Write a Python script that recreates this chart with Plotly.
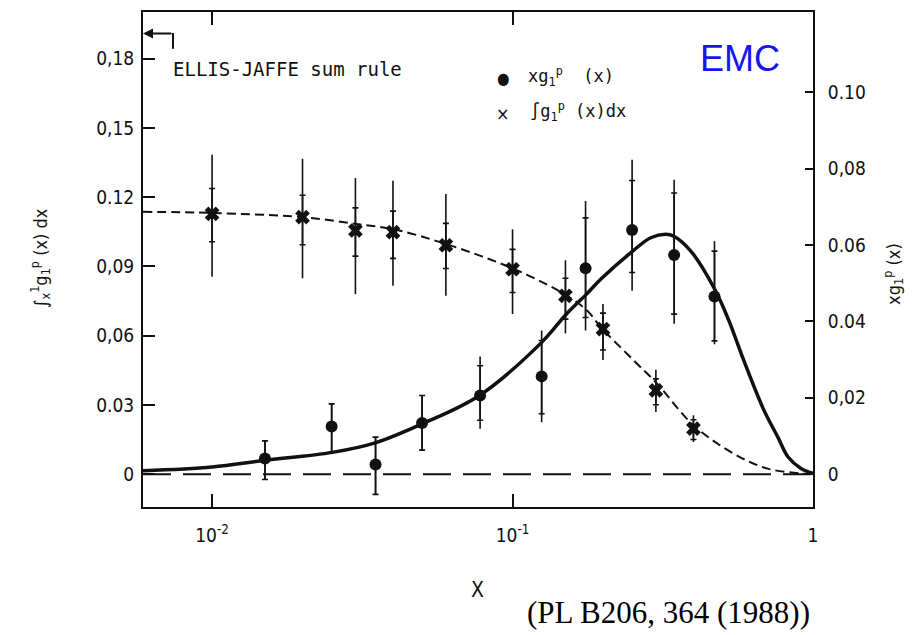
import plotly.graph_objects as go
import numpy as np

# ---------------- data ----------------
# integral of g1p from x to 1  (left axis), crosses
int_x = [0.01, 0.02, 0.03, 0.04, 0.06, 0.10, 0.15, 0.20, 0.30, 0.40]
int_y = [0.1128, 0.1114, 0.1056, 0.1049, 0.0992, 0.0888, 0.0773, 0.0629, 0.0363, 0.0197]
int_stat_hi = [0.1238, 0.1209, 0.1154, 0.1140, 0.1087, 0.0974, 0.0849, 0.0698, 0.0413, 0.0236]
int_stat_lo = [0.1007, 0.0994, 0.0945, 0.0935, 0.0891, 0.0787, 0.0672, 0.0538, 0.0301, 0.0150]
int_tot_hi = [0.1384, 0.1367, 0.1283, 0.1272, 0.1214, 0.1061, 0.0927, 0.0737, 0.0452, 0.0255]
int_tot_lo = [0.0855, 0.0849, 0.0780, 0.0816, 0.0773, 0.0694, 0.0610, 0.0495, 0.0269, 0.0139]

# x*g1p(x)  (right axis), dots
xg_x = [0.015, 0.025, 0.035, 0.050, 0.078, 0.125, 0.175, 0.25, 0.345, 0.47]
xg_y = [0.0041, 0.0125, 0.0025, 0.0134, 0.0206, 0.0256, 0.0539, 0.0639, 0.0574, 0.0465]
xg_stat_hi = [0.0087, 0.0184, 0.0097, 0.0206, 0.0284, 0.0350, 0.0671, 0.0769, 0.0736, 0.0584]
xg_stat_lo = [-0.0014, 0.0058, -0.0053, 0.0063, 0.0141, 0.0158, 0.0410, 0.0528, 0.0419, 0.0349]
xg_tot_hi = [0.0087, 0.0184, 0.0097, 0.0206, 0.0308, 0.0376, 0.0715, 0.0823, 0.0771, 0.0610]
xg_tot_lo = [-0.0014, 0.0058, -0.0053, 0.0063, 0.0119, 0.0136, 0.0376, 0.0480, 0.0394, 0.0340]

# fitted curve for x*g1p (solid, right axis)
fit_x = [0.00589, 0.01, 0.0149, 0.0251, 0.0349, 0.0501, 0.0776, 0.125,
         0.1514, 0.1766, 0.1965, 0.2512, 0.2884, 0.3236, 0.3443, 0.392, 0.471, 0.5248,
         0.5888, 0.687, 0.764, 0.826, 0.912, 1.0]
fit_y = [0.0009, 0.0019, 0.0036, 0.0057, 0.0082, 0.0132, 0.0206, 0.0345,
         0.0420, 0.0472, 0.0510, 0.0584, 0.0619, 0.0628, 0.0623, 0.0584, 0.0484, 0.0402,
         0.0297, 0.0167, 0.0097, 0.0045, 0.0015, 0.0002]

# integrated curve (short dashes, left axis)
icurve_x = [0.00589, 0.01, 0.02, 0.0302, 0.04, 0.0605, 0.1016, 0.152, 0.1774, 0.197,
            0.2535, 0.3027, 0.40, 0.5445, 0.7015, 0.912, 1.0]
icurve_y = [0.1137, 0.1132, 0.1114, 0.1084, 0.1062, 0.0996, 0.0888, 0.0773, 0.0708, 0.0636,
            0.0492, 0.0392, 0.0212, 0.0089, 0.0025, 0.0003, 0.0]

ellis_jaffe = 0.191

left_ticks = [0, 0.03, 0.06, 0.09, 0.12, 0.15, 0.18]
left_ticktext = ["0", "0.03", "0,06", "0,09", "0.12", "0,15", "0,18"]
right_ticks = [0, 0.02, 0.04, 0.06, 0.08, 0.10]
right_ticktext = ["0", "0,02", "0.04", "0.06", "0,08", "0.10"]
x_ticks = [0.01, 0.1, 1]
x_ticktext = ["10<sup>-2</sup>", "10<sup>-1</sup>", "1"]

# ---------------- figure ----------------
W, H = 920, 635
L, R, T, B = 143, 813, 10, 507

def px(xp):
    return (xp - L) / (R - L)

def py(yp):
    return (B - yp) / (B - T)

FONT = "DejaVu Sans Condensed, DejaVu Sans, Arial, sans-serif"
MONO = "DejaVu Sans Mono, Liberation Mono, monospace"
INK = "#111111"

fig = go.Figure()

# zero line (long dashes)
fig.add_trace(go.Scatter(x=[0.00589, 1.0], y=[0, 0], mode="lines",
                         line=dict(color=INK, width=2, dash="28px,12px"),
                         showlegend=False, hoverinfo="skip"))

# integral curve
fig.add_trace(go.Scatter(x=icurve_x, y=icurve_y, mode="lines", line_shape="spline",
                         line=dict(color=INK, width=2, dash="9px,5px"),
                         showlegend=False))

# fit curve (right axis)
fig.add_trace(go.Scatter(x=fit_x, y=fit_y, mode="lines", line_shape="spline", yaxis="y2",
                         line=dict(color=INK, width=3.5, smoothing=1.0),
                         showlegend=False))

def errs(y, hi, lo):
    y = np.array(y); hi = np.array(hi); lo = np.array(lo)
    return (hi - y).tolist(), (y - lo).tolist()

# integral points: total errors (no caps)
p, m = errs(int_y, int_tot_hi, int_tot_lo)
fig.add_trace(go.Scatter(x=int_x, y=int_y, mode="markers",
                         marker=dict(size=1, color="rgba(0,0,0,0)"),
                         error_y=dict(type="data", symmetric=False, array=p, arrayminus=m,
                                      color=INK, thickness=1.6, width=0),
                         showlegend=False))
p, m = errs(int_y, int_stat_hi, int_stat_lo)
fig.add_trace(go.Scatter(x=int_x, y=int_y, mode="markers",
                         marker=dict(symbol="x", size=13, color=INK, line=dict(width=0)),
                         error_y=dict(type="data", symmetric=False, array=p, arrayminus=m,
                                      color=INK, thickness=1.6, width=3),
                         showlegend=False))

# xg1 points (right axis)
p, m = errs(xg_y, xg_tot_hi, xg_tot_lo)
fig.add_trace(go.Scatter(x=xg_x, y=xg_y, mode="markers", yaxis="y2",
                         marker=dict(size=1, color="rgba(0,0,0,0)"),
                         error_y=dict(type="data", symmetric=False, array=p, arrayminus=m,
                                      color=INK, thickness=1.6, width=0),
                         showlegend=False))
p, m = errs(xg_y, xg_stat_hi, xg_stat_lo)
fig.add_trace(go.Scatter(x=xg_x, y=xg_y, mode="markers", yaxis="y2",
                         marker=dict(symbol="circle", size=12, color=INK),
                         error_y=dict(type="data", symmetric=False, array=p, arrayminus=m,
                                      color=INK, thickness=1.6, width=3),
                         showlegend=False))

axis_common = dict(showline=True, linecolor=INK, linewidth=2, ticks="inside",
                   tickcolor=INK, tickwidth=2, showgrid=False, zeroline=False,
                   tickfont=dict(family=FONT, size=19, color=INK))

fig.update_layout(
    width=W, height=H,
    margin=dict(l=L, r=W - R, t=T, b=H - B, pad=0),
    paper_bgcolor="white", plot_bgcolor="white",
    font=dict(family=FONT, color=INK),
    showlegend=False,
    xaxis=dict(type="log", range=[np.log10(0.00589), 0], tickvals=x_ticks,
               ticktext=x_ticktext, ticklen=13, mirror="ticks",
               ticklabelstandoff=10, **axis_common),
    yaxis=dict(range=[-0.01424, 0.2003], tickvals=left_ticks, ticktext=left_ticktext,
               ticklen=12, ticklabelstandoff=3, **axis_common),
    yaxis2=dict(range=[-0.0086, 0.1210], tickvals=right_ticks, ticktext=right_ticktext,
                overlaying="y", side="right", ticklen=8, ticklabelstandoff=9,
                **axis_common),
)

ann = []
def add_text(text, x, y, size=18, xanchor="center", yanchor="middle", angle=0,
             color=INK, family=FONT):
    ann.append(dict(text=text, x=px(x), y=py(y), xref="paper", yref="paper",
                    showarrow=False, xanchor=xanchor, yanchor=yanchor, textangle=angle,
                    font=dict(size=size, color=color, family=family)))

add_text("ELLIS-JAFFE sum rule", 171, 67, size=19, xanchor="left", family=MONO)
add_text("●", 503, 77, size=16)
add_text("xg<sub>1</sub><sup>p</sup>  (x)", 526, 75, size=17, xanchor="left", family=MONO)
add_text("×", 503, 112, size=18)
add_text("∫g<sub>1</sub><sup>p</sup> (x)dx", 528, 110, size=17, xanchor="left", family=MONO)
add_text("EMC", 740, 57, size=36, color="#1515ee", family="Arial, Liberation Sans, sans-serif")
add_text("X", 477, 590, size=21)
add_text("(PL B206, 364 (1988))", 668, 613, size=31, color="#000000",
         family="Liberation Serif, Times New Roman, serif")
add_text("∫<sub>x</sub><sup>1</sup>g<sub>1</sub><sup>p</sup> (x) dx", 40, 257, size=18, angle=-90)
add_text("xg<sub>1</sub><sup>p</sup> (x)", 893, 273, size=18, angle=-90)

# Ellis-Jaffe prediction arrow pointing at the left axis
ann.append(dict(x=0, y=ellis_jaffe, xref="paper", yref="y", ax=30, ay=0,
                axref="pixel", ayref="pixel", showarrow=True, arrowhead=2,
                arrowsize=1, arrowwidth=2, arrowcolor=INK, text=""))
fig.update_layout(annotations=ann)
fig.add_shape(type="line", xref="paper", yref="paper",
              x0=px(L + 30), x1=px(L + 30), y0=py(31), y1=py(47),
              line=dict(color=INK, width=2))

fig.write_html("out.html")
